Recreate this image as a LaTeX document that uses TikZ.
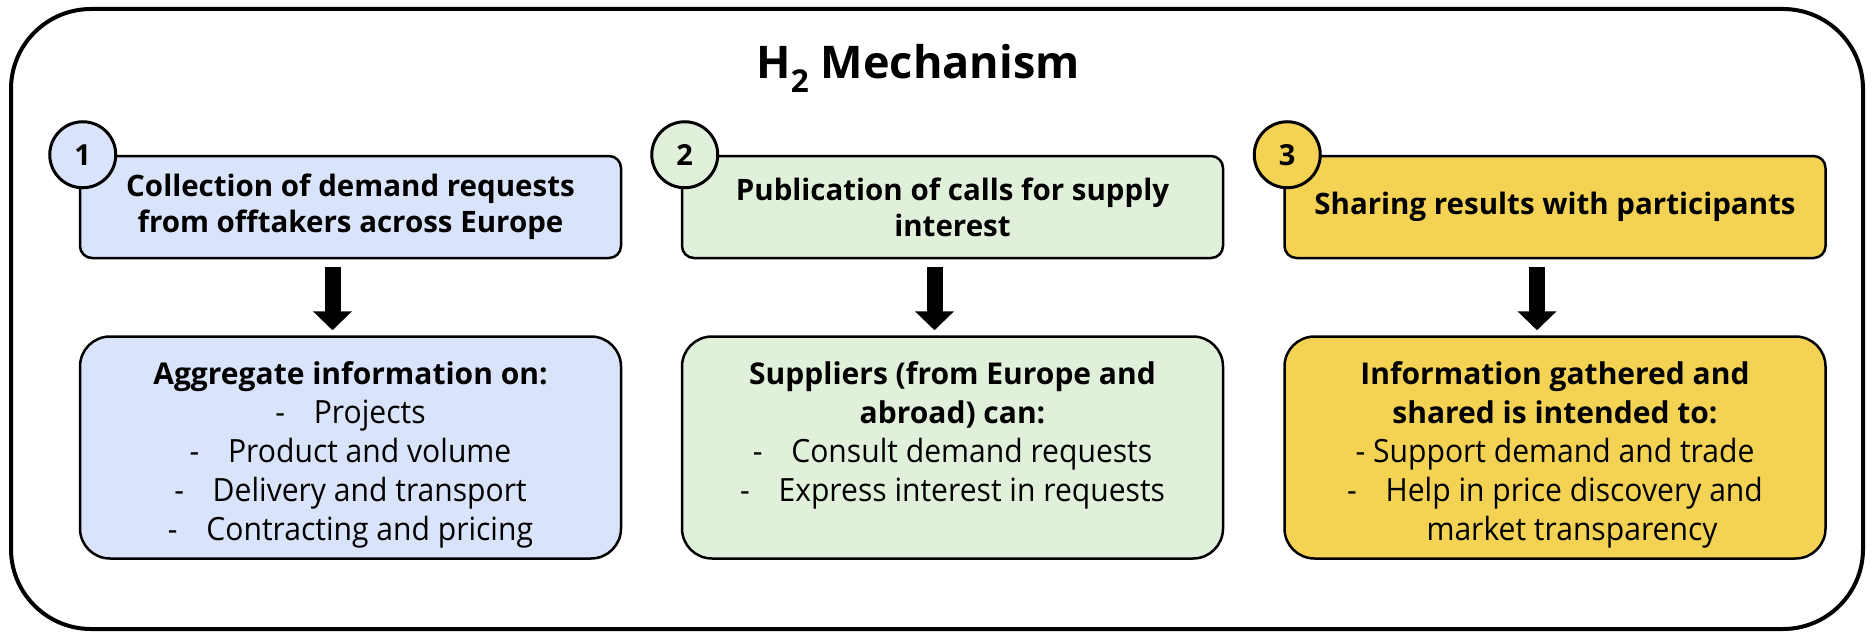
\documentclass[tikz,border=0pt]{standalone}
\usepackage{fontspec}
\setmainfont{Open Sans}
\newfontfamily\narrowfont{Open Sans}[FakeStretch=0.94]
\usetikzlibrary{arrows.meta}
\definecolor{cblue}{RGB}{217,227,250}
\definecolor{cgreen}{RGB}{224,240,218}
\definecolor{cyellow}{RGB}{244,211,84}
\newcommand{\hd}[1]{{\normalfont\bfseries\fontsize{30}{39}\selectfont #1}}
\tikzset{
 frame/.style={draw, line width=4pt, rounded corners=80pt, minimum width=1852pt, minimum height=620pt, inner sep=0pt},
 titletext/.style={inner sep=0pt, font=\fontsize{45}{54}\selectfont\bfseries},
 headbox/.style={draw, line width=2.5pt, rounded corners=12pt, minimum width=541pt, minimum height=102pt, align=center, font=\fontsize{29.5}{36}\selectfont\bfseries, inner sep=0pt},
 numcirc/.style={draw, circle, line width=3pt, minimum size=66pt, inner sep=0pt, font=\fontsize{29}{29}\selectfont\bfseries},
 bodybox/.style={draw, line width=2.5pt, rounded corners=30pt, minimum width=541pt, minimum height=222pt, inner sep=0pt},
 bodytext/.style={anchor=north, align=center, font=\narrowfont\fontsize{32}{39}\selectfont, inner sep=0pt},
 bigarrow/.style={line width=16pt, -{Triangle[width=38pt,length=19pt]}},
}
\begin{document}
\begin{tikzpicture}[x=1pt,y=-1pt]
\useasboundingbox (0,0) rectangle (1876,634);
\node[frame] (frame) at (937,319) {};
\node[titletext, anchor=base] (title) at (918,78) {H\textsubscript{2} Mechanism};
\node[headbox, fill=cblue] (t1) at (350.5,207) {Collection of demand requests\\from offtakers across Europe};
\node[headbox, fill=cgreen] (t2) at (952.5,207) {Publication of calls for supply\\interest};
\node[headbox, fill=cyellow] (t3) at (1555,207) {Sharing results with participants};
\node[numcirc, fill=cblue] (n1) at ([xshift=4pt]t1.north west) {1};
\node[numcirc, fill=cgreen] (n2) at ([xshift=4pt]t2.north west) {2};
\node[numcirc, fill=cyellow] (n3) at ([xshift=4pt]t3.north west) {3};
\node[bodybox, fill=cblue] (b1) at (350.5,447.5) {};
\node[bodybox, fill=cgreen] (b2) at (952.5,447.5) {};
\node[bodybox, fill=cyellow] (b3) at (1555,447.5) {};
\node[bodytext] (b1t) at ([yshift=-26pt]b1.north) {\hd{Aggregate information on:}\\
 -\hspace{0.9em}Projects\\
 -\hspace{0.9em}Product and volume\\
 -\hspace{0.9em}Delivery and transport\\
 -\hspace{0.9em}Contracting and pricing};
\node[bodytext] (b2t) at ([yshift=-26pt]b2.north) {\hd{Suppliers (from Europe and}\\
 \hd{abroad) can:}\\
 -\hspace{0.9em}Consult demand requests\\
 -\hspace{0.9em}Express interest in requests};
\node[bodytext] (b3t) at ([yshift=-26pt]b3.north) {\hd{Information gathered and}\\
 \hd{shared is intended to:}\\
 - Support demand and trade\\
 -\hspace{0.9em}Help in price discovery and\\
 \hspace*{34pt}market transparency};
\draw[bigarrow] ([xshift=-18pt,yshift=-8pt]t1.south) -- ([xshift=-18pt,yshift=5pt]b1.north);
\draw[bigarrow] ([xshift=-18pt,yshift=-8pt]t2.south) -- ([xshift=-18pt,yshift=5pt]b2.north);
\draw[bigarrow] ([xshift=-18pt,yshift=-8pt]t3.south) -- ([xshift=-18pt,yshift=5pt]b3.north);
\end{tikzpicture}
\end{document}
